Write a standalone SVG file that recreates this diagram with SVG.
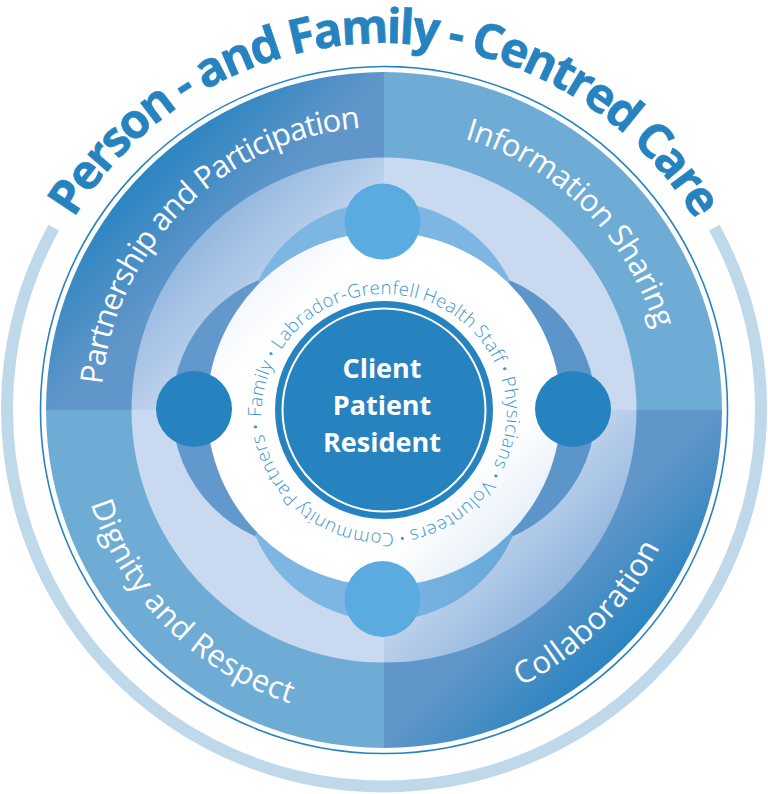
<svg xmlns="http://www.w3.org/2000/svg" width="768" height="794" viewBox="0 0 768 794">
<style>
text{font-family:"Open Sans","Noto Sans","Liberation Sans",sans-serif}
.title{font-size:48px;font-weight:700;fill:#2683c0;stroke:#2683c0;stroke-width:.5px;letter-spacing:-2.3px}
.q{font-size:31px;font-weight:400;fill:#fff}
.r{font-size:18.500px;font-weight:300;fill:#3d97cf;letter-spacing:.5px;word-spacing:-1.500px}
.c{font-size:27px;font-weight:700;fill:#fff;text-anchor:middle}
</style>
<defs>
<linearGradient id="tlO" gradientUnits="userSpaceOnUse" x1="150" y1="150" x2="230" y2="230"><stop offset="0" stop-color="#2683c0"/><stop offset="1" stop-color="#6096c9"/></linearGradient>
<linearGradient id="brO" gradientUnits="userSpaceOnUse" x1="618" y1="668" x2="538" y2="588"><stop offset="0" stop-color="#2683c0"/><stop offset="1" stop-color="#6096c9"/></linearGradient>
<linearGradient id="tlR" gradientUnits="userSpaceOnUse" x1="205" y1="205" x2="300" y2="300"><stop offset="0" stop-color="#8cb2dc"/><stop offset="1" stop-color="#c9d9f0"/></linearGradient>
<linearGradient id="brR" gradientUnits="userSpaceOnUse" x1="563" y1="613" x2="468" y2="518"><stop offset="0" stop-color="#8cb2dc"/><stop offset="1" stop-color="#c9d9f0"/></linearGradient>
<linearGradient id="wh" gradientUnits="userSpaceOnUse" x1="258" y1="284" x2="510" y2="536"><stop offset="0" stop-color="#f3f7fc"/><stop offset=".14" stop-color="#fff"/><stop offset=".8" stop-color="#fff"/><stop offset="1" stop-color="#e6eff9"/></linearGradient>
<linearGradient id="bl" gradientUnits="userSpaceOnUse" x1="260" y1="0" x2="510" y2="0"><stop offset=".5" stop-color="#7db6e3"/><stop offset="1" stop-color="#66a9da"/></linearGradient>
<path id="pTitle" d="M20 410A364 367 0 0 1 748 410"/>
<path id="pTL" d="M101 409A283 283 0 0 1 384 127"/>
<path id="pTR" d="M384 127A283 283 0 0 1 667 409"/>
<path id="pBL" d="M76 410A308 308 0 0 0 384 718"/>
<path id="pBR" d="M384 718A308 308 0 0 0 692 410"/>
<path id="pRing" d="M261.200 417A123 123 0 0 1 507 410A123 123 0 0 1 261.500 421"/>
</defs>
<path id="outer-arc" d="M53.700 227.700A377 377 0 1 0 714.300 227.700" fill="none" stroke="#c0d9ea" stroke-width="12"/>
<circle id="outer-line" cx="384" cy="410" r="343.500" fill="none" stroke="#2683c0" stroke-width="1.600"/>
<g id="quadrant-partnership">
<path d="M384 410H46A338 338 0 0 1 384 72Z" fill="url(#tlO)"/>
<path d="M384 410H131.500A252.500 252.500 0 0 1 384 157.500Z" fill="url(#tlR)"/>
<text class="q" letter-spacing="-1"><textPath href="#pTL" startOffset="50%" text-anchor="middle">Partnership and Participation</textPath></text>
</g>
<g id="quadrant-information">
<path d="M384 410V72A338 338 0 0 1 722 410Z" fill="#6eacd5"/>
<path d="M384 410V157.500A252.500 252.500 0 0 1 636.500 410Z" fill="#c9d9f0"/>
<text class="q" letter-spacing="-.5"><textPath href="#pTR" startOffset="50%" text-anchor="middle">Information Sharing</textPath></text>
</g>
<g id="quadrant-dignity">
<path d="M384 410H46A338 338 0 0 0 384 748Z" fill="#6eacd5"/>
<path d="M384 410H131.500A252.500 252.500 0 0 0 384 662.500Z" fill="#c9d9f0"/>
<text class="q" letter-spacing=".4"><textPath href="#pBL" startOffset="50%" text-anchor="middle">Dignity and Respect</textPath></text>
</g>
<g id="quadrant-collaboration">
<path d="M384 410V748A338 338 0 0 0 722 410Z" fill="url(#brO)"/>
<path d="M384 410V662.500A252.500 252.500 0 0 0 636.500 410Z" fill="url(#brR)"/>
<text class="q" letter-spacing=".4"><textPath href="#pBR" startOffset="50%" text-anchor="middle">Collaboration</textPath></text>
</g>
<g id="lenses">
<circle cx="311" cy="409" r="139" fill="#6298cc"/>
<circle cx="457" cy="409" r="139" fill="#5b95c9"/>
<path d="M258 281A140 140 0 0 1 510 281L384 409Z" fill="#7db6e3"/>
<path d="M255 535A140 140 0 0 0 513 535L384 409Z" fill="url(#bl)"/>
</g>
<g id="people-ring">
<circle cx="384" cy="409" r="177" fill="url(#wh)"/>
<text class="r"><textPath href="#pRing">Family • Labrador-Grenfell Health Staff • Physicians • Volunteers • Community Partners •</textPath></text>
</g>
<g id="node-top"><circle cx="382.500" cy="221.500" r="38" fill="#5aace0"/></g>
<g id="node-left"><circle cx="194" cy="409" r="38" fill="#2683c0"/></g>
<g id="node-right"><circle cx="573" cy="409" r="38" fill="#2683c0"/></g>
<g id="node-bottom"><circle cx="382.500" cy="599" r="38" fill="#5aace0"/></g>
<g id="node-centre">
<circle cx="384" cy="410" r="109" fill="#2683c0"/>
<circle cx="384" cy="410" r="101.500" fill="none" stroke="#fff" stroke-width="2"/>
<text class="c" x="382" y="378">Client</text>
<text class="c" x="382" y="415">Patient</text>
<text class="c" x="382" y="452">Resident</text>
</g>
<text class="title"><textPath href="#pTitle" startOffset="50%" text-anchor="middle">Person - and Family - Centred Care</textPath></text>
</svg>
